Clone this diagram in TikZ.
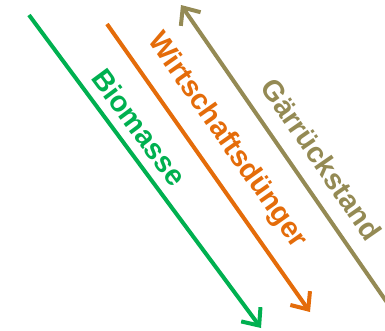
\documentclass[tikz,border=0pt]{standalone}
\usepackage{fontspec}
\setsansfont{Liberation Sans}
\usetikzlibrary{arrows.meta}

\definecolor{biogreen}{RGB}{0,176,80}
\definecolor{wdorange}{RGB}{228,108,10}
\definecolor{grolive}{RGB}{148,138,84}

\tikzset{
  flow/.style={line width=4pt, -{Straight Barb[length=14pt, width=24pt]}},
  flowlabel/.style={sloped, above, inner sep=0pt,
    font=\sffamily\bfseries\fontsize{29}{29}\selectfont}
}

\begin{document}
\begin{tikzpicture}[x=1pt, y=-1pt]
\useasboundingbox (0,0) rectangle (385,330);

\coordinate (bioStart) at (29,15);
\coordinate (bioEnd)   at (261,328);
\coordinate (wdStart)  at (107,24);
\coordinate (wdEnd)    at (310,312);
\coordinate (grStart)  at (395,314);
\coordinate (grEnd)    at (181,5);

\draw[flow, draw=biogreen] (bioStart) -- node[flowlabel, pos=0.40, yshift=9pt, text=biogreen] (bioLabel) {Biomasse} (bioEnd);
\draw[flow, draw=wdorange] (wdStart) -- node[flowlabel, pos=0.467, yshift=15pt, text=wdorange] (wdLabel) {Wirtschaftsdünger} (wdEnd);
\draw[flow, draw=grolive] (grStart) -- node[flowlabel, pos=0.45, yshift=15pt, text=grolive] (grLabel) {Gärrückstand} (grEnd);
\end{tikzpicture}
\end{document}
